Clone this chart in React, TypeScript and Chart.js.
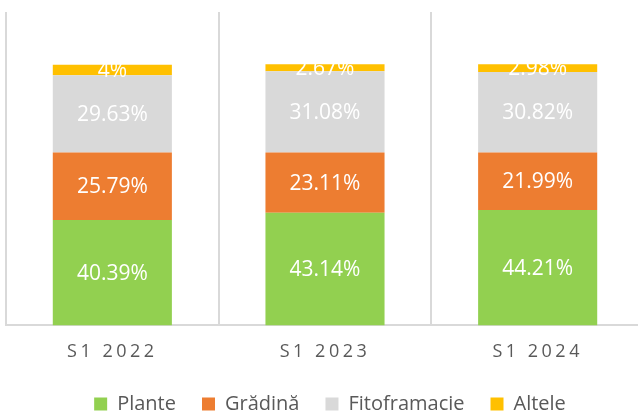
import React, { useEffect, useRef } from "react";
import { Chart, registerables } from "chart.js";

Chart.register(...registerables);

const categories = ["S1 2022", "S1 2023", "S1 2024"];
const plante = [40.39, 43.14, 44.21];
const gradina = [25.79, 23.11, 21.99];
const fitofarmacie = [29.63, 31.08, 30.82];
const altele = [4, 2.67, 2.98];
const seriesNames = ["Plante", "Grădină", "Fitoframacie", "Altele"];
const seriesColors = ["#92d050", "#ed7d31", "#d9d9d9", "#ffc000"];

const FONT = "'Open Sans', 'Noto Sans', sans-serif";

const dataLabelPlugin = {
  id: "dataLabels",
  afterUpdate(chart: any) {
    const lg = chart.legend;
    if (lg) {
      lg.top -= 11;
      lg.bottom -= 11;
      lg.left += 5;
      lg.right += 5;
    }
  },
  afterDatasetsDraw(chart: any) {
    const ctx = chart.ctx;
    ctx.save();
    ctx.font = `21px ${FONT}`;
    ctx.fillStyle = "#ffffff";
    ctx.textAlign = "center";
    ctx.textBaseline = "middle";
    chart.data.datasets.forEach((ds: any, di: number) => {
      const meta = chart.getDatasetMeta(di);
      meta.data.forEach((el: any, i: number) => {
        const v = ds.data[i];
        const cy = (el.y + el.base) / 2;
        ctx.fillText(`${v}%`, el.x, cy + 1);
      });
    });
    ctx.restore();
    (ctx as any).letterSpacing = "3.5px";
  },
  afterDraw(chart: any) {
    (chart.ctx as any).letterSpacing = "0px";
  },
};

export default function App() {
  const ref = useRef<HTMLCanvasElement | null>(null);
  useEffect(() => {
    if (!ref.current) return;
    const datasets = [plante, gradina, fitofarmacie, altele].map((d, i) => ({
      label: seriesNames[i],
      data: d,
      backgroundColor: seriesColors[i],
      borderWidth: 0,
      barPercentage: 0.56,
      categoryPercentage: 1,
    }));
    const chart = new Chart(ref.current, {
      type: "bar",
      data: { labels: categories, datasets },
      options: {
        animation: false,
        responsive: false,
        layout: { padding: { left: 6, right: 16, top: 12, bottom: -22 } },
        scales: {
          x: {
            stacked: true,
            offset: true,
            grid: {
              display: true,
              offset: true,
              color: "#d9d9d9",
              lineWidth: 2,
              drawTicks: false,
            },
            border: { display: true, color: "#d9d9d9", width: 2 },
            ticks: {
              color: "#595959",
              font: { family: FONT, size: 18 },
              padding: 16,
              z: 1,
            },
          },
          y: {
            stacked: true,
            display: false,
            min: 0,
            max: 120,
          },
        },
        plugins: {
          legend: {
            position: "bottom",
            labels: {
              color: "#595959",
              font: { family: FONT, size: 20 },
              boxWidth: 13,
              boxHeight: 13,
              padding: 26,
            },
          },
          tooltip: { enabled: false },
        },
      },
      plugins: [dataLabelPlugin],
    } as any);
    return () => chart.destroy();
  }, []);
  return (
    <div
      style={{
        position: "fixed",
        left: 0,
        top: 0,
        width: 638,
        height: 413,
        overflow: "hidden",
        background: "#ffffff",
      }}
    >
      <canvas ref={ref} width={660} height={413} />
    </div>
  );
}
